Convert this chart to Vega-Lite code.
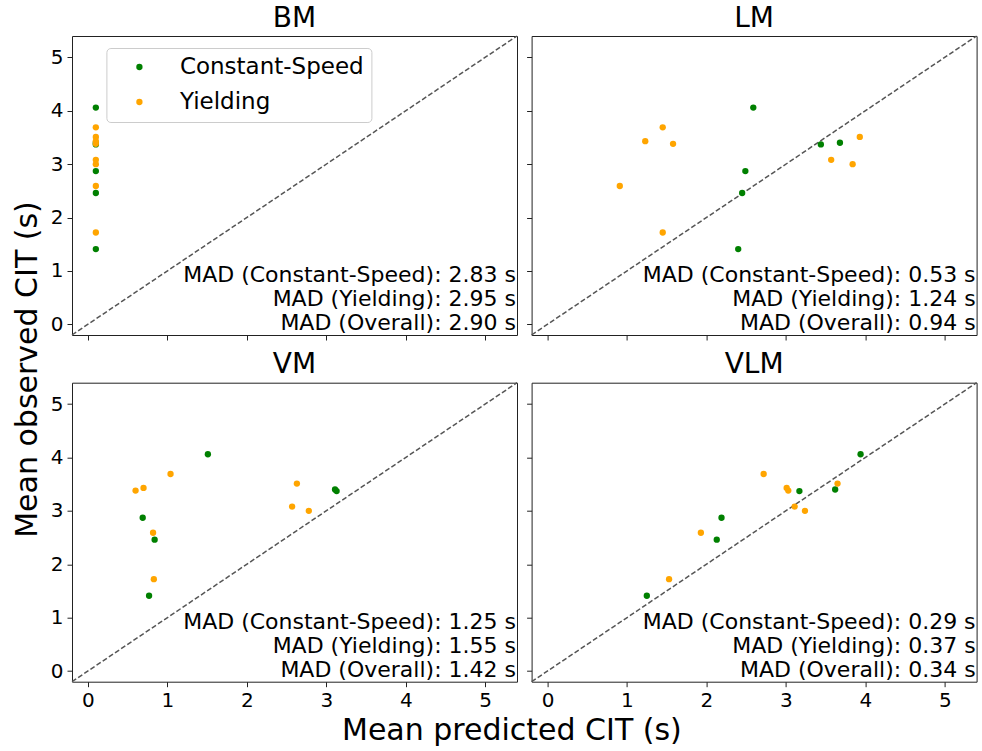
{
  "$schema": "https://vega.github.io/schema/vega-lite/v6.json",
  "background": "white",
  "padding": {"left": 11, "top": 4, "right": 0, "bottom": 0},
  "config": {
    "font": "DejaVu Sans",
    "view": {"stroke": "#222", "strokeWidth": 1},
    "axis": {"grid": false, "domain": false, "tickSize": 5, "tickColor": "#222", "tickWidth": 1, "labelFontSize": 20, "labelColor": "black", "labelPadding": 4, "format": "d", "titleFontSize": 30, "titleFontWeight": "normal", "titleColor": "black"},
    "title": {"fontSize": 28, "fontWeight": "normal", "color": "black", "offset": 0.4}
  },
  "datasets": {
    "diag": [{"v": -0.2}, {"v": 5.4}],
    "points": [
      {"model": "BM", "type": "Constant-Speed", "predicted": 0.10, "observed": 4.06},
      {"model": "BM", "type": "Constant-Speed", "predicted": 0.10, "observed": 3.40},
      {"model": "BM", "type": "Constant-Speed", "predicted": 0.10, "observed": 3.37},
      {"model": "BM", "type": "Constant-Speed", "predicted": 0.10, "observed": 2.87},
      {"model": "BM", "type": "Constant-Speed", "predicted": 0.10, "observed": 2.46},
      {"model": "BM", "type": "Constant-Speed", "predicted": 0.10, "observed": 1.41},
      {"model": "BM", "type": "Yielding", "predicted": 0.10, "observed": 3.69},
      {"model": "BM", "type": "Yielding", "predicted": 0.10, "observed": 3.43},
      {"model": "BM", "type": "Yielding", "predicted": 0.10, "observed": 3.38},
      {"model": "BM", "type": "Yielding", "predicted": 0.10, "observed": 3.51},
      {"model": "BM", "type": "Yielding", "predicted": 0.10, "observed": 3.08},
      {"model": "BM", "type": "Yielding", "predicted": 0.10, "observed": 3.00},
      {"model": "BM", "type": "Yielding", "predicted": 0.10, "observed": 2.59},
      {"model": "BM", "type": "Yielding", "predicted": 0.10, "observed": 1.72},
      {"model": "LM", "type": "Constant-Speed", "predicted": 2.59, "observed": 4.06},
      {"model": "LM", "type": "Constant-Speed", "predicted": 3.68, "observed": 3.40},
      {"model": "LM", "type": "Constant-Speed", "predicted": 3.44, "observed": 3.37},
      {"model": "LM", "type": "Constant-Speed", "predicted": 2.49, "observed": 2.87},
      {"model": "LM", "type": "Constant-Speed", "predicted": 2.45, "observed": 2.46},
      {"model": "LM", "type": "Constant-Speed", "predicted": 2.40, "observed": 1.41},
      {"model": "LM", "type": "Yielding", "predicted": 1.45, "observed": 3.69},
      {"model": "LM", "type": "Yielding", "predicted": 1.23, "observed": 3.43},
      {"model": "LM", "type": "Yielding", "predicted": 1.58, "observed": 3.38},
      {"model": "LM", "type": "Yielding", "predicted": 3.93, "observed": 3.51},
      {"model": "LM", "type": "Yielding", "predicted": 3.57, "observed": 3.08},
      {"model": "LM", "type": "Yielding", "predicted": 3.84, "observed": 3.00},
      {"model": "LM", "type": "Yielding", "predicted": 0.91, "observed": 2.59},
      {"model": "LM", "type": "Yielding", "predicted": 1.45, "observed": 1.72},
      {"model": "VM", "type": "Constant-Speed", "predicted": 1.51, "observed": 4.06},
      {"model": "VM", "type": "Constant-Speed", "predicted": 3.11, "observed": 3.40},
      {"model": "VM", "type": "Constant-Speed", "predicted": 3.13, "observed": 3.37},
      {"model": "VM", "type": "Constant-Speed", "predicted": 0.69, "observed": 2.87},
      {"model": "VM", "type": "Constant-Speed", "predicted": 0.84, "observed": 2.46},
      {"model": "VM", "type": "Constant-Speed", "predicted": 0.77, "observed": 1.41},
      {"model": "VM", "type": "Yielding", "predicted": 1.04, "observed": 3.69},
      {"model": "VM", "type": "Yielding", "predicted": 0.70, "observed": 3.43},
      {"model": "VM", "type": "Yielding", "predicted": 0.60, "observed": 3.38},
      {"model": "VM", "type": "Yielding", "predicted": 2.63, "observed": 3.51},
      {"model": "VM", "type": "Yielding", "predicted": 2.57, "observed": 3.08},
      {"model": "VM", "type": "Yielding", "predicted": 2.78, "observed": 3.00},
      {"model": "VM", "type": "Yielding", "predicted": 0.82, "observed": 2.59},
      {"model": "VM", "type": "Yielding", "predicted": 0.83, "observed": 1.72},
      {"model": "VLM", "type": "Constant-Speed", "predicted": 3.94, "observed": 4.06},
      {"model": "VLM", "type": "Constant-Speed", "predicted": 3.62, "observed": 3.40},
      {"model": "VLM", "type": "Constant-Speed", "predicted": 3.17, "observed": 3.37},
      {"model": "VLM", "type": "Constant-Speed", "predicted": 2.19, "observed": 2.87},
      {"model": "VLM", "type": "Constant-Speed", "predicted": 2.13, "observed": 2.46},
      {"model": "VLM", "type": "Constant-Speed", "predicted": 1.25, "observed": 1.41},
      {"model": "VLM", "type": "Yielding", "predicted": 2.72, "observed": 3.69},
      {"model": "VLM", "type": "Yielding", "predicted": 3.01, "observed": 3.43},
      {"model": "VLM", "type": "Yielding", "predicted": 3.03, "observed": 3.38},
      {"model": "VLM", "type": "Yielding", "predicted": 3.65, "observed": 3.51},
      {"model": "VLM", "type": "Yielding", "predicted": 3.11, "observed": 3.08},
      {"model": "VLM", "type": "Yielding", "predicted": 3.24, "observed": 3.00},
      {"model": "VLM", "type": "Yielding", "predicted": 1.93, "observed": 2.59},
      {"model": "VLM", "type": "Yielding", "predicted": 1.53, "observed": 1.72}
    ],
    "mad": [
      {"model": "BM", "label": "MAD (Constant-Speed): 2.83 s\nMAD (Yielding): 2.95 s\nMAD (Overall): 2.90 s"},
      {"model": "LM", "label": "MAD (Constant-Speed): 0.53 s\nMAD (Yielding): 1.24 s\nMAD (Overall): 0.94 s"},
      {"model": "VM", "label": "MAD (Constant-Speed): 1.25 s\nMAD (Yielding): 1.55 s\nMAD (Overall): 1.42 s"},
      {"model": "VLM", "label": "MAD (Constant-Speed): 0.29 s\nMAD (Yielding): 0.37 s\nMAD (Overall): 0.34 s"}
    ]
  },
  "columns": 2,
  "bounds": "flush",
  "spacing": {"row": 47.7, "column": 14.6},
  "resolve": {"legend": {"color": "independent"}},
  "concat": [
    {
      "width": 445, "height": 299,
      "title": "BM",
      "layer": [
        {"data": {"name": "diag"}, "mark": {"type": "line", "strokeDash": [5, 2.4], "color": "#555", "strokeWidth": 1.5},
         "encoding": {
           "x": {"field": "v", "type": "quantitative", "scale": {"domain": [-0.2, 5.4], "nice": false, "zero": false}, "axis": {"values": [0, 1, 2, 3, 4, 5], "labels": false, "title": null}},
           "y": {"field": "v", "type": "quantitative", "scale": {"domain": [-0.2, 5.4], "nice": false, "zero": false}, "axis": {"values": [0, 1, 2, 3, 4, 5], "title": "Mean observed CIT (s)", "titleY": 333, "titlePadding": 8}}
         }},
        {"data": {"name": "points"}, "transform": [{"filter": "datum.model === 'BM'"}], "mark": {"type": "circle", "size": 40, "opacity": 1},
         "encoding": {
           "x": {"field": "predicted", "type": "quantitative"},
           "y": {"field": "observed", "type": "quantitative"},
           "color": {"field": "type", "type": "nominal", "scale": {"domain": ["Constant-Speed", "Yielding"], "range": ["green", "orange"]},
             "legend": {"title": null, "orient": "none", "legendX": 34.4, "legendY": 12, "labelFontSize": 23, "labelColor": "black", "labelLimit": 400, "symbolSize": 40, "symbolType": "circle", "symbolOpacity": 1, "padding": 7.5, "symbolOffset": 14, "labelOffset": 29, "rowPadding": 11, "strokeColor": "#ccc", "fillColor": "white", "cornerRadius": 4}}
         }},
        {"data": {"name": "mad"}, "transform": [{"filter": "datum.model === 'BM'"}], "mark": {"type": "text", "align": "right", "baseline": "alphabetic", "lineBreak": "\n", "fontSize": 22, "lineHeight": 24, "dx": -1, "dy": -53, "color": "black"},
         "encoding": {"x": {"value": "width"}, "y": {"value": "height"}, "text": {"field": "label"}}}
      ]
    },
    {
      "width": 445, "height": 299,
      "title": "LM",
      "layer": [
        {"data": {"name": "diag"}, "mark": {"type": "line", "strokeDash": [5, 2.4], "color": "#555", "strokeWidth": 1.5},
         "encoding": {
           "x": {"field": "v", "type": "quantitative", "scale": {"domain": [-0.2, 5.4], "nice": false, "zero": false}, "axis": {"values": [0, 1, 2, 3, 4, 5], "labels": false, "title": null}},
           "y": {"field": "v", "type": "quantitative", "scale": {"domain": [-0.2, 5.4], "nice": false, "zero": false}, "axis": {"values": [0, 1, 2, 3, 4, 5], "labels": false, "title": null}}
         }},
        {"data": {"name": "points"}, "transform": [{"filter": "datum.model === 'LM'"}], "mark": {"type": "circle", "size": 40, "opacity": 1},
         "encoding": {
           "x": {"field": "predicted", "type": "quantitative"},
           "y": {"field": "observed", "type": "quantitative"},
           "color": {"field": "type", "type": "nominal", "scale": {"domain": ["Constant-Speed", "Yielding"], "range": ["green", "orange"]}, "legend": null}
         }},
        {"data": {"name": "mad"}, "transform": [{"filter": "datum.model === 'LM'"}], "mark": {"type": "text", "align": "right", "baseline": "alphabetic", "lineBreak": "\n", "fontSize": 22, "lineHeight": 24, "dx": -1, "dy": -53, "color": "black"},
         "encoding": {"x": {"value": "width"}, "y": {"value": "height"}, "text": {"field": "label"}}}
      ]
    },
    {
      "width": 445, "height": 299,
      "title": "VM",
      "layer": [
        {"data": {"name": "diag"}, "mark": {"type": "line", "strokeDash": [5, 2.4], "color": "#555", "strokeWidth": 1.5},
         "encoding": {
           "x": {"field": "v", "type": "quantitative", "scale": {"domain": [-0.2, 5.4], "nice": false, "zero": false}, "axis": {"values": [0, 1, 2, 3, 4, 5], "title": "Mean predicted CIT (s)", "titleX": 439.4, "titlePadding": 5}},
           "y": {"field": "v", "type": "quantitative", "scale": {"domain": [-0.2, 5.4], "nice": false, "zero": false}, "axis": {"values": [0, 1, 2, 3, 4, 5], "title": null}}
         }},
        {"data": {"name": "points"}, "transform": [{"filter": "datum.model === 'VM'"}], "mark": {"type": "circle", "size": 40, "opacity": 1},
         "encoding": {
           "x": {"field": "predicted", "type": "quantitative"},
           "y": {"field": "observed", "type": "quantitative"},
           "color": {"field": "type", "type": "nominal", "scale": {"domain": ["Constant-Speed", "Yielding"], "range": ["green", "orange"]}, "legend": null}
         }},
        {"data": {"name": "mad"}, "transform": [{"filter": "datum.model === 'VM'"}], "mark": {"type": "text", "align": "right", "baseline": "alphabetic", "lineBreak": "\n", "fontSize": 22, "lineHeight": 24, "dx": -1, "dy": -53, "color": "black"},
         "encoding": {"x": {"value": "width"}, "y": {"value": "height"}, "text": {"field": "label"}}}
      ]
    },
    {
      "width": 445, "height": 299,
      "title": "VLM",
      "layer": [
        {"data": {"name": "diag"}, "mark": {"type": "line", "strokeDash": [5, 2.4], "color": "#555", "strokeWidth": 1.5},
         "encoding": {
           "x": {"field": "v", "type": "quantitative", "scale": {"domain": [-0.2, 5.4], "nice": false, "zero": false}, "axis": {"values": [0, 1, 2, 3, 4, 5], "title": null}},
           "y": {"field": "v", "type": "quantitative", "scale": {"domain": [-0.2, 5.4], "nice": false, "zero": false}, "axis": {"values": [0, 1, 2, 3, 4, 5], "labels": false, "title": null}}
         }},
        {"data": {"name": "points"}, "transform": [{"filter": "datum.model === 'VLM'"}], "mark": {"type": "circle", "size": 40, "opacity": 1},
         "encoding": {
           "x": {"field": "predicted", "type": "quantitative"},
           "y": {"field": "observed", "type": "quantitative"},
           "color": {"field": "type", "type": "nominal", "scale": {"domain": ["Constant-Speed", "Yielding"], "range": ["green", "orange"]}, "legend": null}
         }},
        {"data": {"name": "mad"}, "transform": [{"filter": "datum.model === 'VLM'"}], "mark": {"type": "text", "align": "right", "baseline": "alphabetic", "lineBreak": "\n", "fontSize": 22, "lineHeight": 24, "dx": -1, "dy": -53, "color": "black"},
         "encoding": {"x": {"value": "width"}, "y": {"value": "height"}, "text": {"field": "label"}}}
      ]
    }
  ]
}
